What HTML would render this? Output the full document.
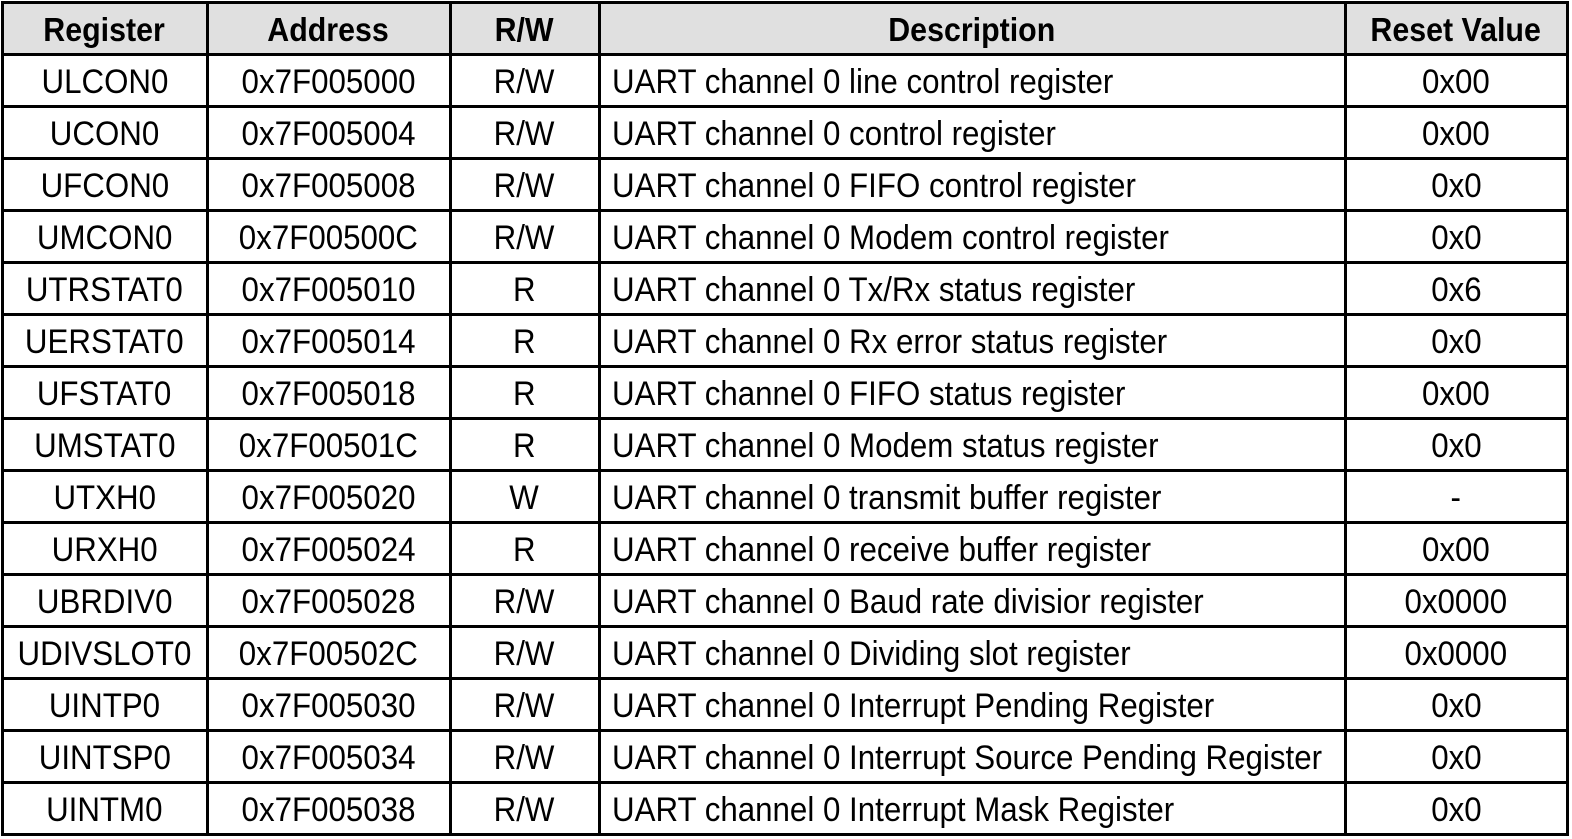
<!DOCTYPE html>
<html><head><meta charset="utf-8"><style>
body{margin:0;width:1572px;height:839px;background:#fff;position:relative;overflow:hidden;font-family:"Liberation Sans",sans-serif;color:#000}
.hdr{position:absolute;left:2px;top:2px;width:1565px;height:52px;background:#e0e0e0}
.ln{position:absolute;background:#000}
.c{position:absolute;height:52px;line-height:52px;font-size:34px;white-space:nowrap}
.c span{display:inline-block;transform:scaleX(0.92)}
.ctr{text-align:center}
.ctr span{transform-origin:50% 50%}
.lft span{transform-origin:0 50%}
.b{font-weight:bold;font-size:33px}
</style></head><body>
<div class="hdr"></div>
<div id="t"></div>
<script>
const cols=[2,207,450,599,1345,1567];
const heads=["Register","Address","R/W","Description","Reset Value"];
const rows=[
["ULCON0","0x7F005000","R/W","UART channel 0 line control register","0x00"],
["UCON0","0x7F005004","R/W","UART channel 0 control register","0x00"],
["UFCON0","0x7F005008","R/W","UART channel 0 FIFO control register","0x0"],
["UMCON0","0x7F00500C","R/W","UART channel 0 Modem control register","0x0"],
["UTRSTAT0","0x7F005010","R","UART channel 0 Tx/Rx status register","0x6"],
["UERSTAT0","0x7F005014","R","UART channel 0 Rx error status register","0x0"],
["UFSTAT0","0x7F005018","R","UART channel 0 FIFO status register","0x00"],
["UMSTAT0","0x7F00501C","R","UART channel 0 Modem status register","0x0"],
["UTXH0","0x7F005020","W","UART channel 0 transmit buffer register","-"],
["URXH0","0x7F005024","R","UART channel 0 receive buffer register","0x00"],
["UBRDIV0","0x7F005028","R/W","UART channel 0 Baud rate divisior register","0x0000"],
["UDIVSLOT0","0x7F00502C","R/W","UART channel 0 Dividing slot register","0x0000"],
["UINTP0","0x7F005030","R/W","UART channel 0 Interrupt Pending Register","0x0"],
["UINTSP0","0x7F005034","R/W","UART channel 0 Interrupt Source Pending Register","0x0"],
["UINTM0","0x7F005038","R/W","UART channel 0 Interrupt Mask Register","0x0"]];
const t=document.getElementById('t');
const top0=2,rh=52;
function cell(txt,ci,y,bold){
 const d=document.createElement('div');
 
 
 const left=(ci===3&&!bold);
 d.className='c'+(bold?' b':'')+(left?' lft':' ctr');
 d.style.top=y+'px';
 if(left){d.style.left=(cols[3]+13)+'px';}
 else{d.style.left=cols[ci]+'px';d.style.width=(cols[ci+1]-cols[ci])+'px';}
 const s=document.createElement('span');
 s.textContent=txt;d.appendChild(s);t.appendChild(d);
}
heads.forEach((h,i)=>cell(h,i,top0+2,true));
rows.forEach((r,ri)=>r.forEach((v,ci)=>cell(v,ci,top0+rh*(ri+1)+2,false)));
const nR=rows.length+1;
for(let i=0;i<=nR;i++){
 const l=document.createElement('div');
 
 
 l.className='ln';l.style.left=(cols[0]-1)+'px';l.style.width=(cols[5]-cols[0]+3)+'px';
 l.style.top=(top0+rh*i-1)+'px';l.style.height='3px';t.appendChild(l);
}
cols.forEach(x=>{
 const l=document.createElement('div');
 
 
 l.className='ln';l.style.left=(x-1)+'px';l.style.width='3px';
 l.style.top=(top0-1)+'px';l.style.height=(rh*nR+3)+'px';t.appendChild(l);
});
</script>
</body></html>
